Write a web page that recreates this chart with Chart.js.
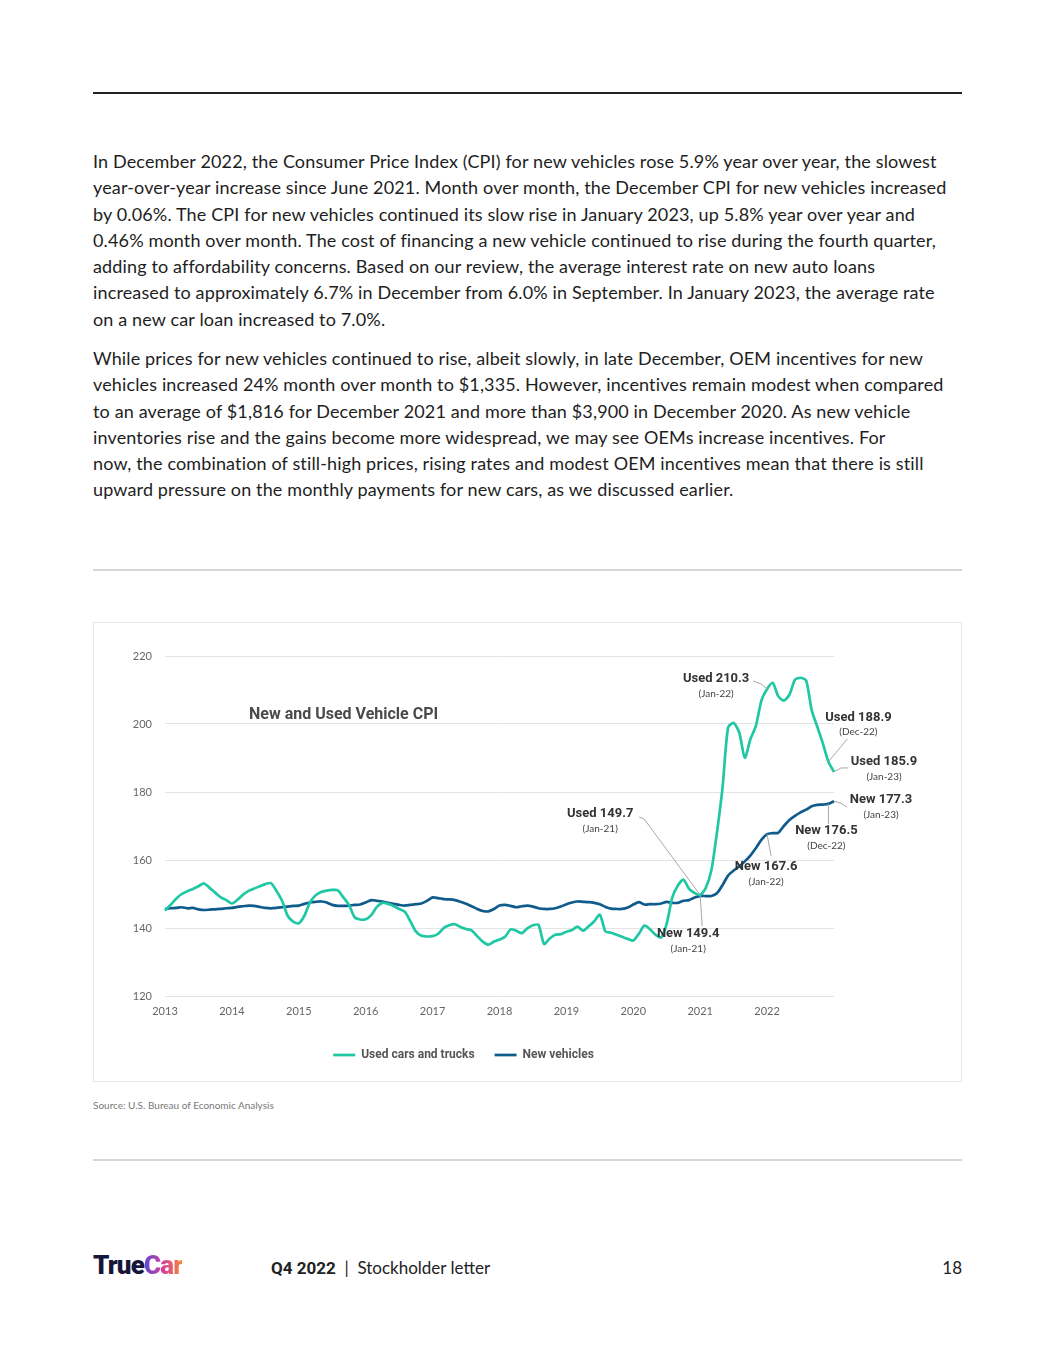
<!DOCTYPE html>
<html><head><meta charset="utf-8">
<script src="https://cdn.jsdelivr.net/npm/chart.js@4.4.1/dist/chart.umd.min.js"></script>
<style>
html,body{margin:0;padding:0;background:#fff;}
body{width:1055px;height:1365px;position:relative;font-family:Lato,"Noto Sans",sans-serif;color:#1e1e1e;overflow:hidden;}
.rule{position:absolute;left:93px;width:869px;}
.para{position:absolute;left:93px;font-size:18px;letter-spacing:0.14px;line-height:26.3px;white-space:nowrap;color:#1e1e1e;}
#box{position:absolute;left:93px;top:622px;width:869px;height:460px;box-sizing:border-box;border:1px solid #e6e6e6;pointer-events:none;}
#wrap{position:absolute;left:93px;top:622px;width:869px;height:460px;}
.src{position:absolute;left:93px;top:1099px;font-size:10px;color:#777;}
.logo{position:absolute;left:93px;top:1250px;font-size:26px;font-family:Roboto,sans-serif;font-weight:900;letter-spacing:-0.8px;}
.logo .t{color:#16163a;}
.logo .c{background:linear-gradient(90deg,#5a48d8,#d83f9a 50%,#f5883a);-webkit-background-clip:text;background-clip:text;color:transparent;}
.foot{position:absolute;left:271px;top:1257px;font-size:17px;color:#222;}
.foot b{font-family:Roboto,sans-serif;font-weight:700;}
.pg{position:absolute;right:93px;top:1257px;font-size:17px;color:#222;}
</style></head>
<body>
<div class="rule" style="top:92px;height:2px;background:#222;"></div>
<div class="para" style="top:148px;">
In December 2022, the Consumer Price Index (CPI) for new vehicles rose 5.9% year over year, the slowest<br>
year-over-year increase since June 2021. Month over month, the December CPI for new vehicles increased<br>
by 0.06%. The CPI for new vehicles continued its slow rise in January 2023, up 5.8% year over year and<br>
0.46% month over month. The cost of financing a new vehicle continued to rise during the fourth quarter,<br>
adding to affordability concerns. Based on our review, the average interest rate on new auto loans<br>
increased to approximately 6.7% in December from 6.0% in September. In January 2023, the average rate<br>
on a new car loan increased to 7.0%.
</div>
<div class="para" style="top:345px;">
While prices for new vehicles continued to rise, albeit slowly, in late December, OEM incentives for new<br>
vehicles increased 24% month over month to $1,335. However, incentives remain modest when compared<br>
to an average of $1,816 for December 2021 and more than $3,900 in December 2020. As new vehicle<br>
inventories rise and the gains become more widespread, we may see OEMs increase incentives. For<br>
now, the combination of still-high prices, rising rates and modest OEM incentives mean that there is still<br>
upward pressure on the monthly payments for new cars, as we discussed earlier.
</div>
<div class="rule" style="top:569px;height:2px;background:#d6d6d6;"></div>
<div id="wrap"><canvas id="c"></canvas></div>
<div id="box"></div>
<div class="src">Source: U.S. Bureau of Economic Analysis</div>
<div class="rule" style="top:1159px;height:2px;background:#d6d6d6;"></div>
<div class="logo"><span class="t">True</span><span class="c">Car</span></div>
<div class="foot"><b>Q4 2022</b>&nbsp; | &nbsp;Stockholder letter</div>
<div class="pg">18</div>
<script>
// Categories: monthly, Jan 2013 .. Jan 2023
const monthNames = ['Jan','Feb','Mar','Apr','May','Jun','Jul','Aug','Sep','Oct','Nov','Dec'];
const months = [];
for (let y = 2013; y <= 2023; y++) for (let m = 0; m < 12; m++) { if (y === 2023 && m > 0) break; months.push(monthNames[m] + ' ' + y); }
const yearTicks = ['2013','2014','2015','2016','2017','2018','2019','2020','2021','2022'];
const yTicks = [120,140,160,180,200,220];

const usedCars = [
145.1,146.8,148.6,150.0,150.8,151.5,152.3,153.1,151.8,150.4,149.0,148.2,
147.2,148.3,149.8,150.9,151.6,152.3,152.9,153.2,150.9,148.0,143.6,141.9,
141.4,143.6,147.5,149.6,150.6,151.0,151.2,151.1,149.0,146.8,143.2,142.5,
142.6,143.8,146.2,147.4,147.1,146.5,145.6,144.8,142.0,139.0,137.7,137.5,
137.6,138.3,140.0,140.8,141.1,140.3,139.7,139.3,137.6,136.0,135.1,136.0,
136.6,137.4,139.6,139.2,138.5,139.9,140.8,140.9,135.3,136.9,138.0,138.2,
138.9,139.4,140.4,139.2,140.5,142.0,143.9,139.0,138.6,138.0,137.4,136.8,
136.3,138.3,140.7,139.6,138.0,137.2,141.3,149.0,152.5,154.2,151.5,150.3,
149.7,151.8,157.0,168.0,181.2,199.0,200.3,197.5,190.1,195.5,199.5,207.0,
210.3,212.1,208.2,206.9,208.6,213.0,213.6,212.8,204.1,199.2,194.3,188.9,
185.9];
const newVehicles = [
145.6,145.8,145.9,146.1,145.8,145.9,145.5,145.3,145.4,145.5,145.6,145.8,
145.9,146.2,146.4,146.6,146.5,146.2,145.9,145.8,145.9,146.1,146.3,146.5,
146.6,147.1,147.5,147.7,147.8,147.5,146.8,146.5,146.5,146.6,146.8,146.9,
147.5,148.2,148.0,147.8,147.4,147.1,146.8,146.6,146.8,147.0,147.2,148.0,
149.0,148.8,148.5,148.4,148.2,147.7,147.1,146.4,145.6,145.0,144.9,145.6,
146.6,146.8,146.5,146.1,146.4,146.6,146.3,145.8,145.6,145.6,145.8,146.3,
147.0,147.5,147.8,147.7,147.6,147.4,147.0,146.2,145.7,145.6,145.6,146.0,
146.9,147.6,146.9,147.0,147.0,147.2,147.7,147.4,147.4,148.0,148.2,149.0,
149.4,149.4,149.4,150.2,152.6,155.4,156.9,158.1,159.6,161.3,163.5,166.0,
167.6,167.9,168.0,170.0,171.8,173.0,174.0,174.8,175.8,176.2,176.3,176.5,
177.3];

const seriesNames = ['Used cars and trucks','New vehicles'];
const shortNames = ['Used','New'];
const TEAL = '#1fc7a4', NAVY = '#0f5b8b';
const BOLD_FONT = 'Roboto, "Noto Sans", sans-serif';
const REG_FONT = 'Lato, "Noto Sans", sans-serif';

// callouts: dataset, month index, date text; geometry offsets in px
const callouts = [
  {ds:0, idx:108, date:'(Jan-22)', lx:-51, ly:-10, path:[[0,0],[-6,-5],[-14,-8]]},
  {ds:0, idx:119, date:'(Dec-22)', lx:30, ly:-44, path:[[0,0],[19,-23]]},
  {ds:0, idx:120, date:'(Jan-23)', lx:50, ly:-10, path:[[0,0],[7,-4],[14,-4]]},
  {ds:1, idx:120, date:'(Jan-23)', lx:47, ly:-1, path:[[0,0],[7,2],[13,6]]},
  {ds:1, idx:119, date:'(Dec-22)', lx:-2, ly:27, path:[[0,0],[0,20]]},
  {ds:1, idx:108, date:'(Jan-22)', lx:-1, ly:33, path:[[0,0],[4,22]]},
  {ds:0, idx:96,  date:'(Jan-21)', lx:-100, ly:-81, path:[[0,0],[-56,-76],[-61,-78]]},
  {ds:1, idx:96,  date:'(Jan-21)', lx:-12, ly:38, path:[[0,0],[2,30]]}
];

const calloutPlugin = {
  id:'callouts',
  afterDatasetsDraw(chart){
    const ctx = chart.ctx, xs = chart.scales.x, ys = chart.scales.y, ca = chart.chartArea;
    ctx.save();
    // title
    ctx.font = 'bold 16px ' + BOLD_FONT;
    ctx.fillStyle = '#4a4a4a';
    ctx.textAlign = 'left'; ctx.textBaseline = 'middle';
    ctx.fillText('New and Used Vehicle CPI', ca.left + 84, ca.top + 59);
    const dataArr = [usedCars, newVehicles];
    callouts.forEach(c => {
      const v = dataArr[c.ds][c.idx];
      const px = xs.getPixelForValue(c.idx), py = ys.getPixelForValue(v);
      ctx.strokeStyle = '#a8a8a8'; ctx.lineWidth = 1;
      ctx.beginPath();
      c.path.forEach((p,i) => { if (i===0) ctx.moveTo(px+p[0], py+p[1]); else ctx.lineTo(px+p[0], py+p[1]); });
      ctx.stroke();
      ctx.textAlign = 'center'; ctx.textBaseline = 'middle';
      ctx.font = 'bold 13px ' + BOLD_FONT;
      ctx.fillStyle = '#333';
      ctx.fillText(shortNames[c.ds] + ' ' + v.toFixed(1), px + c.lx, py + c.ly);
      ctx.font = '10px ' + REG_FONT;
      ctx.fillStyle = '#444';
      ctx.fillText(c.date, px + c.lx, py + c.ly + 14.5);
    });
    ctx.restore();
  }
};

new Chart(document.getElementById('c'), {
  type:'line',
  data:{
    labels: months,
    datasets:[
      {label:seriesNames[0], data:usedCars, borderColor:TEAL, backgroundColor:TEAL, borderWidth:2.7, pointRadius:0, tension:0.25, fill:false},
      {label:seriesNames[1], data:newVehicles, borderColor:NAVY, backgroundColor:NAVY, borderWidth:2.7, pointRadius:0, tension:0.25, fill:false}
    ]
  },
  options:{
    responsive:true, maintainAspectRatio:false, animation:false,
    layout:{padding:{left:0, right:128, top:34, bottom:11}},
    plugins:{
      legend:{position:'bottom', labels:{usePointStyle:true, pointStyle:'line', pointStyleWidth:22, boxHeight:12, padding:20, color:'#555', font:{family:BOLD_FONT, size:12, weight:'bold'}}},
      tooltip:{enabled:false}
    },
    scales:{
      x:{
        type:'category', offset:false,
        grid:{display:false, drawTicks:false}, border:{display:false},
        ticks:{autoSkip:false, maxRotation:0, minRotation:0, padding:9, color:'#666', font:{family:REG_FONT, size:11},
          callback:function(v){ const lab = this.getLabelForValue(v); const yr = lab.slice(4); return (lab.startsWith('Jan') && yearTicks.includes(yr)) ? yr : null; }},
        afterFit:(s)=>{ s.height = 33; }
      },
      y:{
        min:yTicks[0], max:yTicks[yTicks.length-1],
        afterBuildTicks:(s)=>{ s.ticks = yTicks.map(v=>({value:v})); },
        grid:{color:'#e4e4e4', drawTicks:false, lineWidth:1}, border:{display:false},
        ticks:{padding:13, color:'#666', font:{family:REG_FONT, size:11}},
        afterFit:(s)=>{ s.width = 72; }
      }
    }
  },
  plugins:[calloutPlugin]
});
</script>
</body></html>
